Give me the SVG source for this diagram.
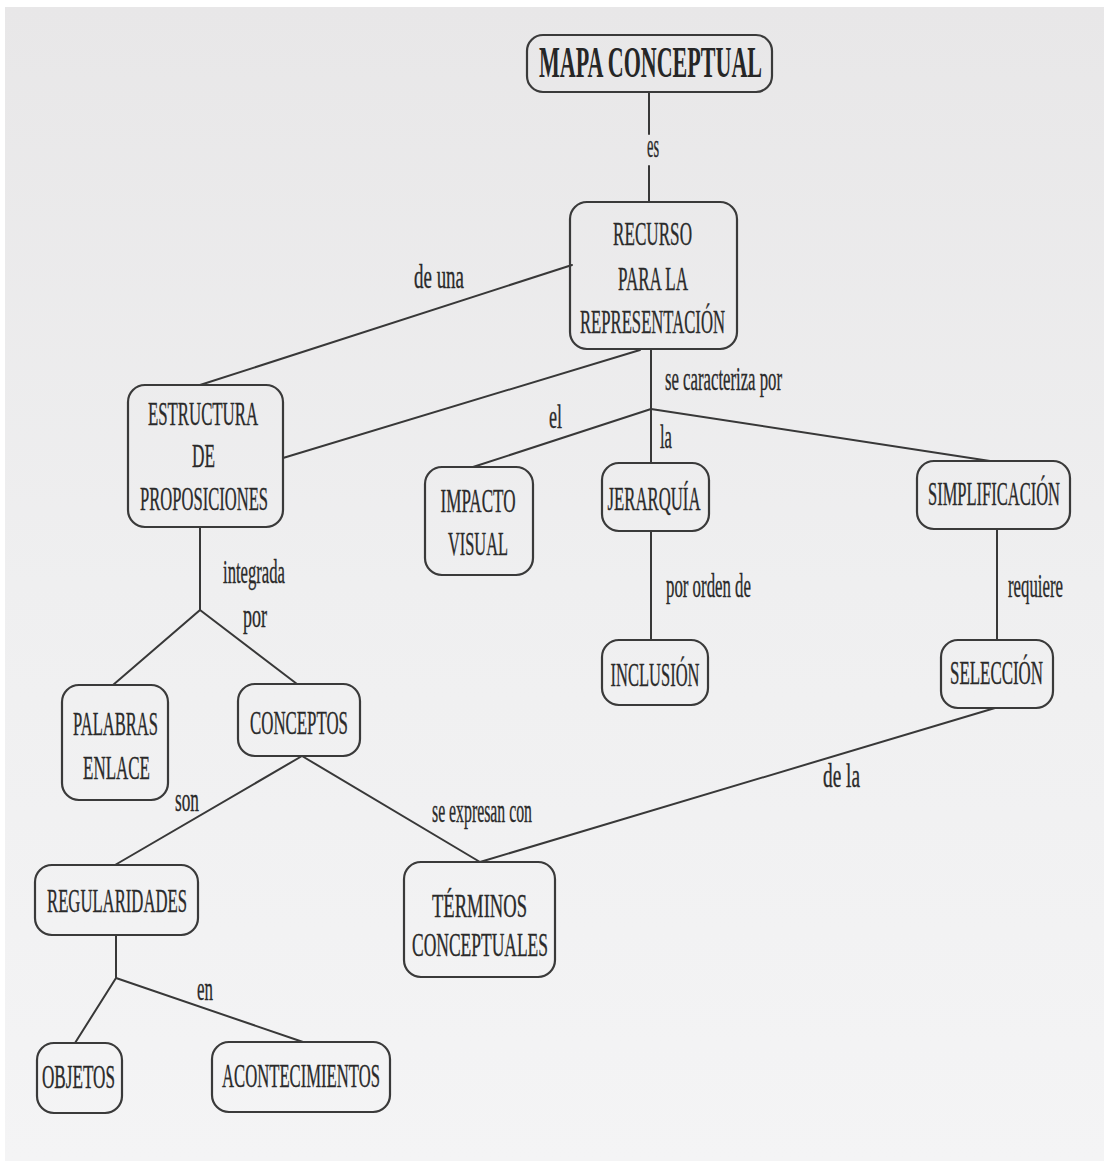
<svg xmlns="http://www.w3.org/2000/svg" width="1104" height="1161" viewBox="0 0 1104 1161">
<defs>
<linearGradient id="paper" x1="0" y1="0" x2="0" y2="1">
<stop offset="0" stop-color="#e8e7e8"/>
<stop offset="0.5" stop-color="#efeff0"/>
<stop offset="1" stop-color="#f4f4f5"/>
</linearGradient>
<style>
.box{fill:none;stroke:#3a3a3a;stroke-width:2.2}
.edge{stroke:#383838;stroke-width:2;fill:none;stroke-linecap:round}
.t{font-family:"Liberation Serif","Times New Roman",serif;font-size:33px;fill:#2a2a2a;stroke:#2a2a2a;stroke-width:0.35;text-anchor:middle}
.lbl{font-family:"Liberation Serif","Times New Roman",serif;font-size:33px;fill:#2a2a2a;stroke:#2a2a2a;stroke-width:0.35}
.title{font-family:"Liberation Serif","Times New Roman",serif;font-size:44px;font-weight:bold;fill:#262626;text-anchor:middle}
</style>
</defs>
<rect x="0" y="0" width="1104" height="1161" fill="#ffffff"/>
<rect x="5" y="7" width="1099" height="1154" fill="url(#paper)"/>

<g id="connectors">
<line class="edge" x1="649" y1="92" x2="649" y2="134"/>
<line class="edge" x1="649" y1="166" x2="649" y2="202"/>
<line class="edge" x1="572" y1="265" x2="200" y2="385"/>
<line class="edge" x1="640" y1="350" x2="283" y2="458"/>
<line class="edge" x1="651" y1="349" x2="651" y2="409"/>
<line class="edge" x1="651" y1="409" x2="473" y2="467"/>
<line class="edge" x1="651" y1="409" x2="651" y2="463"/>
<line class="edge" x1="651" y1="409" x2="990" y2="461"/>
<line class="edge" x1="651" y1="531" x2="651" y2="640"/>
<line class="edge" x1="997" y1="529" x2="997" y2="640"/>
<line class="edge" x1="995" y1="708" x2="480" y2="862"/>
<line class="edge" x1="302" y1="756" x2="480" y2="862"/>
<line class="edge" x1="302" y1="756" x2="115" y2="865"/>
<polyline class="edge" points="200,527 200,610 113,685"/>
<line class="edge" x1="200" y1="610" x2="297" y2="684"/>
<polyline class="edge" points="116,935 116,978 75,1043"/>
<line class="edge" x1="116" y1="978" x2="303" y2="1042"/>
<text class="lbl" x="647" y="157" textLength="12" lengthAdjust="spacingAndGlyphs">es</text>
<text class="lbl" x="414" y="288" textLength="50" lengthAdjust="spacingAndGlyphs">de una</text>
<text class="lbl" x="665" y="390" textLength="117" lengthAdjust="spacingAndGlyphs">se caracteriza por</text>
<text class="lbl" x="549" y="428" textLength="13" lengthAdjust="spacingAndGlyphs">el</text>
<text class="lbl" x="660" y="448" textLength="12" lengthAdjust="spacingAndGlyphs">la</text>
<text class="lbl" x="666" y="597" textLength="85" lengthAdjust="spacingAndGlyphs">por orden de</text>
<text class="lbl" x="1008" y="597" textLength="55" lengthAdjust="spacingAndGlyphs">requiere</text>
<text class="lbl" x="223" y="583" textLength="62" lengthAdjust="spacingAndGlyphs">integrada</text>
<text class="lbl" x="243" y="627" textLength="24" lengthAdjust="spacingAndGlyphs">por</text>
<text class="lbl" x="175" y="811" textLength="24" lengthAdjust="spacingAndGlyphs">son</text>
<text class="lbl" x="432" y="822" textLength="100" lengthAdjust="spacingAndGlyphs">se expresan con</text>
<text class="lbl" x="823" y="787" textLength="37" lengthAdjust="spacingAndGlyphs">de la</text>
<text class="lbl" x="197" y="1000" textLength="16" lengthAdjust="spacingAndGlyphs">en</text>
</g>

<g id="mapa-conceptual">
<rect class="box" x="527" y="35" width="245" height="57" rx="16"/>
<text class="title" x="650.5" y="77" textLength="223" lengthAdjust="spacingAndGlyphs">MAPA CONCEPTUAL</text>
</g>
<g id="recurso">
<rect class="box" x="570" y="202" width="167" height="147" rx="17"/>
<text class="t" x="652.5" y="245" textLength="79" lengthAdjust="spacingAndGlyphs" fill="#4a4a4a" stroke="#4a4a4a">RECURSO</text>
<text class="t" x="653" y="290" textLength="70" lengthAdjust="spacingAndGlyphs">PARA LA</text>
<text class="t" x="652.5" y="333" textLength="145" lengthAdjust="spacingAndGlyphs">REPRESENTACIÓN</text>
</g>
<g id="estructura">
<rect class="box" x="128" y="385" width="155" height="142" rx="17"/>
<text class="t" x="203" y="425" textLength="110" lengthAdjust="spacingAndGlyphs">ESTRUCTURA</text>
<text class="t" x="203.5" y="467" textLength="23" lengthAdjust="spacingAndGlyphs">DE</text>
<text class="t" x="204" y="510" textLength="128" lengthAdjust="spacingAndGlyphs">PROPOSICIONES</text>
</g>
<g id="impacto">
<rect class="box" x="425" y="467" width="108" height="108" rx="17"/>
<text class="t" x="478" y="512" textLength="75" lengthAdjust="spacingAndGlyphs">IMPACTO</text>
<text class="t" x="478" y="555" textLength="60" lengthAdjust="spacingAndGlyphs">VISUAL</text>
</g>
<g id="jerarquia">
<rect class="box" x="602" y="463" width="107" height="68" rx="17"/>
<text class="t" x="654" y="510" textLength="93" lengthAdjust="spacingAndGlyphs">JERARQUÍA</text>
</g>
<g id="simplificacion">
<rect class="box" x="917" y="461" width="153" height="68" rx="17"/>
<text class="t" x="994" y="505" textLength="132" lengthAdjust="spacingAndGlyphs">SIMPLIFICACIÓN</text>
</g>
<g id="inclusion">
<rect class="box" x="602" y="640" width="106" height="65" rx="17"/>
<text class="t" x="655" y="686" textLength="89" lengthAdjust="spacingAndGlyphs">INCLUSIÓN</text>
</g>
<g id="seleccion">
<rect class="box" x="941" y="640" width="112" height="68" rx="17"/>
<text class="t" x="996.5" y="684" textLength="93" lengthAdjust="spacingAndGlyphs">SELECCIÓN</text>
</g>
<g id="palabras-enlace">
<rect class="box" x="62" y="685" width="106" height="115" rx="17"/>
<text class="t" x="115.5" y="735" textLength="85" lengthAdjust="spacingAndGlyphs">PALABRAS</text>
<text class="t" x="116.5" y="779" textLength="67" lengthAdjust="spacingAndGlyphs">ENLACE</text>
</g>
<g id="conceptos">
<rect class="box" x="238" y="684" width="122" height="72" rx="17"/>
<text class="t" x="299" y="734" textLength="98" lengthAdjust="spacingAndGlyphs">CONCEPTOS</text>
</g>
<g id="regularidades">
<rect class="box" x="35" y="865" width="163" height="70" rx="17"/>
<text class="t" x="117" y="912" textLength="140" lengthAdjust="spacingAndGlyphs">REGULARIDADES</text>
</g>
<g id="terminos">
<rect class="box" x="404" y="862" width="151" height="115" rx="17"/>
<text class="t" x="479.5" y="917" textLength="95" lengthAdjust="spacingAndGlyphs">TÉRMINOS</text>
<text class="t" x="480" y="956" textLength="136" lengthAdjust="spacingAndGlyphs">CONCEPTUALES</text>
</g>
<g id="objetos">
<rect class="box" x="37" y="1043" width="85" height="70" rx="17"/>
<text class="t" x="78.5" y="1088" textLength="73" lengthAdjust="spacingAndGlyphs">OBJETOS</text>
</g>
<g id="acontecimientos">
<rect class="box" x="212" y="1042" width="178" height="70" rx="17"/>
<text class="t" x="301" y="1087" textLength="158" lengthAdjust="spacingAndGlyphs">ACONTECIMIENTOS</text>
</g>
</svg>
